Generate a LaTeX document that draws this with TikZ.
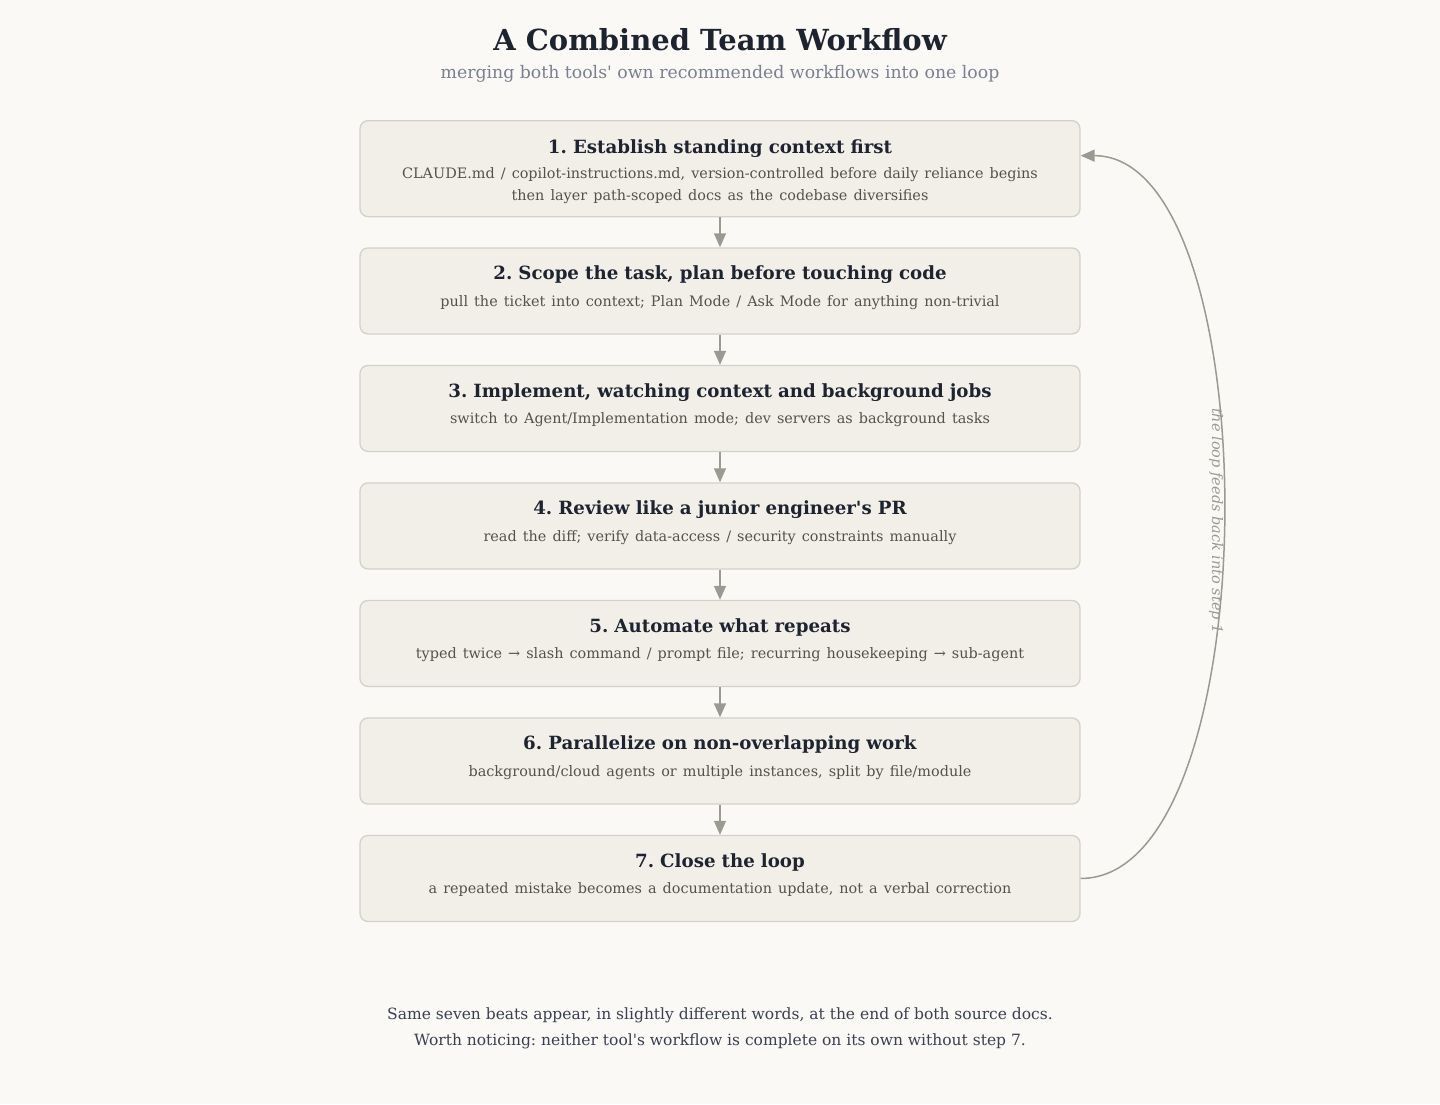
\documentclass[tikz,border=0pt]{standalone}
\usepackage{fontspec}
\setmainfont{DejaVu Serif}
\usetikzlibrary{positioning,arrows.meta}
\frenchspacing
\definecolor{PageBg}{HTML}{FAF9F6}
\definecolor{BoxFill}{HTML}{F2EFE9}
\definecolor{BoxLine}{HTML}{D4D1CA}
\definecolor{Ink}{HTML}{1E2330}
\definecolor{Muted}{HTML}{55514B}
\definecolor{SubInk}{HTML}{7A8090}
\definecolor{Wire}{HTML}{9A9A92}
\definecolor{FootInk}{HTML}{3A4050}
\newcommand{\stepbody}{\fontsize{14.4}{20.5}\selectfont\color{Muted}}

\begin{document}
\begin{tikzpicture}[
  x=1pt,y=-1pt,
  stepbox/.style={draw=BoxLine,fill=BoxFill,rounded corners=8pt,line width=1.3pt,
             minimum width=720pt,text width=690pt,inner xsep=15pt,inner ysep=0pt,
             text height=32pt,text depth=54pt,align=center,text=Ink,
             font=\fontsize{18.2}{22}\selectfont},
  ar/.style={-{Triangle[length=14pt,width=12pt]},draw=Wire,line width=1.5pt},
]
\fill[PageBg] (0,0) rectangle (1440,1104);
\node[font=\fontsize{29}{33}\selectfont\bfseries,text=Ink] (title) at (720,40) {A Combined Team Workflow};
\node[font=\fontsize{17.3}{20}\selectfont,text=SubInk] (subtitle) at (720,74) {merging both tools\textquotesingle\ own recommended workflows into one loop};

\node[stepbox,text height=33.3pt,text depth=62.7pt,anchor=north] (s1) at (720,120)
  {\textbf{1. Establish standing context first}\\[4.5pt]\stepbody CLAUDE.md / copilot-instructions.md, version-controlled before daily reliance begins\\then layer path-scoped docs as the codebase diversifies};
\node[stepbox,below=30pt of s1] (s2)
  {\textbf{2. Scope the task, plan before touching code}\\[4.5pt]\stepbody pull the ticket into context; Plan Mode / Ask Mode for anything non-trivial};
\node[stepbox,below=30.2pt of s2] (s3)
  {\textbf{3. Implement, watching context and background jobs}\\[4.5pt]\stepbody switch to Agent/Implementation mode; dev servers as background tasks};
\node[stepbox,below=30.2pt of s3] (s4)
  {\textbf{4. Review like a junior engineer\textquotesingle s PR}\\[4.5pt]\stepbody read the diff; verify data-access / security constraints manually};
\node[stepbox,below=30.2pt of s4] (s5)
  {\textbf{5. Automate what repeats}\\[4.5pt]\stepbody typed twice → slash command / prompt file; recurring housekeeping → sub-agent};
\node[stepbox,below=30.2pt of s5] (s6)
  {\textbf{6. Parallelize on non-overlapping work}\\[4.5pt]\stepbody background/cloud agents or multiple instances, split by file/module};
\node[stepbox,below=30.2pt of s6] (s7)
  {\textbf{7. Close the loop}\\[4.5pt]\stepbody a repeated mistake becomes a documentation update, not a verbal correction};
\draw[ar] (s1) -- (s2); \draw[ar] (s2) -- (s3); \draw[ar] (s3) -- (s4);
\draw[ar] (s4) -- (s5); \draw[ar] (s5) -- (s6); \draw[ar] (s6) -- (s7);

% feedback from the last step back to the first
\coordinate (back) at ([yshift=13pt]s1.east);
\draw[ar] (s7.east) .. controls +(190,0) and +(190,0) .. (back);
\node[rotate=-90,text=Wire,font=\fontsize{14.5}{17}\selectfont\itshape] (note) at (1216,521) {the loop feeds back into step 1};

\node[align=center,text=FootInk,font=\fontsize{15.5}{26}\selectfont] (foot) at (720,1028)
  {Same seven beats appear, in slightly different words, at the end of both source docs.\\Worth noticing: neither tool\textquotesingle s workflow is complete on its own without step 7.};
\end{tikzpicture}
\end{document}
